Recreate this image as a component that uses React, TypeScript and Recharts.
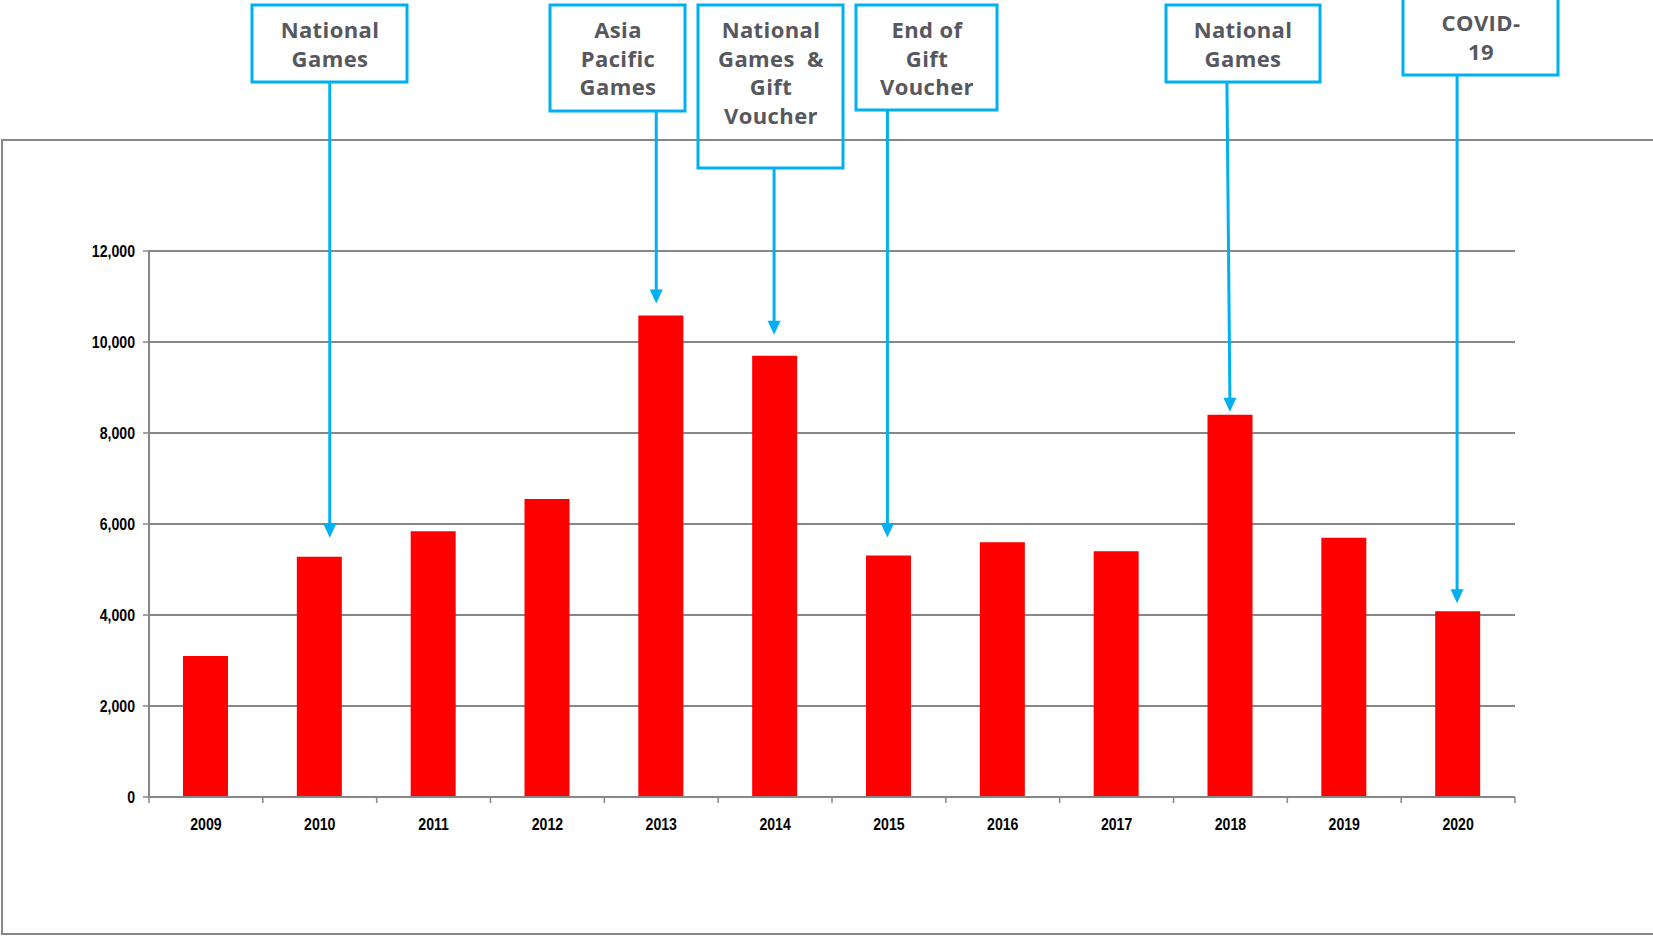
import React from 'react';
import { BarChart, Bar, XAxis, YAxis, CartesianGrid, ReferenceDot } from 'recharts';

// ---------- data ----------
const years = ['2009', '2010', '2011', '2012', '2013', '2014', '2015', '2016', '2017', '2018', '2019', '2020'];
const visitors = [3100, 5280, 5840, 6550, 10580, 9700, 5310, 5600, 5400, 8400, 5700, 4080];
const yTicks = [0, 2000, 4000, 6000, 8000, 10000, 12000];

const annotationYears = ['2010', '2013', '2014', '2015', '2018', '2020'];
const annotationLabels = [
  ['National', 'Games'],
  ['Asia', 'Pacific', 'Games'],
  ['National', 'Games  &', 'Gift', 'Voucher'],
  ['End of', 'Gift', 'Voucher'],
  ['National', 'Games'],
  ['COVID-', '19'],
];

// ---------- layout (pixels) ----------
const W = 1653;
const H = 937;
const PLOT_LEFT = 149;
const PLOT_RIGHT = 1515;
const PLOT_TOP = 251;
const PLOT_BOTTOM = 797;
const Y_AXIS_W = 60;
const X_AXIS_H = 40;

const boxes = [
  { x: 252, y: 5, w: 155, h: 77, tx: 330 },
  { x: 550, y: 5, w: 135, h: 106, tx: 618 },
  { x: 698, y: 5, w: 145, h: 163, tx: 771 },
  { x: 856, y: 5, w: 141, h: 105, tx: 927 },
  { x: 1166, y: 5, w: 154, h: 77, tx: 1243 },
  { x: 1403, y: -2, w: 155, h: 77, tx: 1481 },
];
const arrowDxTop = [10, -5, -1, -1.5, -3.5, -1];
const arrowDxTip = [10, -5, -1, -1.5, -0.5, -1];
const arrowGap = [19, 12, 21, 18, 3, 8];

const BLUE = '#00B0F0';
const GRID = '#878787';
const TICK_FONT = "'Liberation Sans', Arial, sans-serif";
const TICK_SIZE = 17;
const TICK_SQUEEZE = 0.83;
const NOTE_FONT = "'Open Sans', 'Noto Sans', sans-serif";

const data = years.map((y, i) => ({ year: y, value: visitors[i] }));

const fmt = (v: number) => v.toLocaleString('en-US');

const Annotation = ({ cx, cy, i }: { cx: number; cy: number; i: number }) => {
  const b = boxes[i];
  const xTop = cx + arrowDxTop[i];
  const xTip = cx + arrowDxTip[i];
  const yTip = cy - arrowGap[i];
  const headL = 14;
  const headW = 6.5;
  return (
    <g>
      <rect x={b.x} y={b.y} width={b.w} height={b.h} fill="none" stroke={BLUE} strokeWidth={3} />
      <line x1={xTop} y1={b.y + b.h} x2={xTip} y2={yTip - headL + 1} stroke={BLUE} strokeWidth={3} />
      <polygon
        points={`${xTip - headW},${yTip - headL} ${xTip + headW},${yTip - headL} ${xTip},${yTip}`}
        fill={BLUE}
      />
      {annotationLabels[i].map((t, k) => (
        <text
          key={k}
          x={b.tx}
          y={b.y + 33 + k * 28.5}
          textAnchor="middle"
          fontFamily={NOTE_FONT}
          fontWeight={700}
          fontSize={22}
          letterSpacing={0.4}
          fill="#575760"
          style={{ whiteSpace: 'pre' }}
        >
          {t}
        </text>
      ))}
    </g>
  );
};

const XTick = (props: any) => {
  const { x, payload, index } = props;
  const half = payload && payload.offset ? payload.offset : (PLOT_RIGHT - PLOT_LEFT) / years.length / 2;
  return (
    <g>
      <line x1={x - half} y1={PLOT_BOTTOM} x2={x - half} y2={PLOT_BOTTOM + 6} stroke={GRID} strokeWidth={1.5} />
      {index === years.length - 1 && (
        <line x1={x + half} y1={PLOT_BOTTOM} x2={x + half} y2={PLOT_BOTTOM + 6} stroke={GRID} strokeWidth={1.5} />
      )}
      <text
        transform={`translate(${x},${PLOT_BOTTOM + 33}) scale(${TICK_SQUEEZE},1)`}
        textAnchor="middle"
        fontFamily={TICK_FONT}
        fontWeight={700}
        fontSize={TICK_SIZE}
        fill="#000"
      >
        {payload.value}
      </text>
    </g>
  );
};

const YTick = (props: any) => {
  const { x, y, payload } = props;
  return (
    <text
      transform={`translate(${x},${y}) scale(${TICK_SQUEEZE},1)`}
      textAnchor="end"
      dy="0.36em"
      fontFamily={TICK_FONT}
      fontWeight={700}
      fontSize={TICK_SIZE}
      fill="#000"
    >
      {fmt(payload.value)}
    </text>
  );
};

export default function App() {
  return (
    <div style={{ position: 'absolute', left: 0, top: 0, width: W, height: H, overflow: 'hidden', background: '#fff' }}>
      <div
        style={{
          position: 'absolute',
          left: 1,
          top: 139,
          width: 2000,
          height: 796,
          border: `2px solid ${GRID}`,
          boxSizing: 'border-box',
        }}
      />
      <div style={{ position: 'absolute', left: 0, top: 0 }}>
        <BarChart
          width={W}
          height={H}
          data={data}
          margin={{
            top: PLOT_TOP,
            right: W - PLOT_RIGHT,
            bottom: H - PLOT_BOTTOM - X_AXIS_H,
            left: PLOT_LEFT - Y_AXIS_W,
          }}
          barSize={45}
        >
          <CartesianGrid vertical={false} stroke={GRID} strokeWidth={2} />
          <XAxis
            dataKey="year"
            height={X_AXIS_H}
            axisLine={{ stroke: GRID, strokeWidth: 2 }}
            tickLine={false}
            tick={<XTick />}
            interval={0}
          />
          <YAxis
            width={Y_AXIS_W}
            domain={[0, 12000]}
            ticks={yTicks}
            axisLine={{ stroke: GRID, strokeWidth: 2 }}
            tickLine={{ stroke: GRID, strokeWidth: 1.5 }}
            tickSize={6}
            tickMargin={8}
            tick={<YTick />}
            interval={0}
          />
          <Bar dataKey="value" fill="#FF0000" isAnimationActive={false} />
          {annotationYears.map((yr, i) => (
            <ReferenceDot
              key={yr}
              x={yr}
              y={visitors[years.indexOf(yr)]}
              ifOverflow="visible"
              shape={(p: any) => <Annotation cx={p.cx} cy={p.cy} i={i} />}
            />
          ))}
        </BarChart>
      </div>
    </div>
  );
}
